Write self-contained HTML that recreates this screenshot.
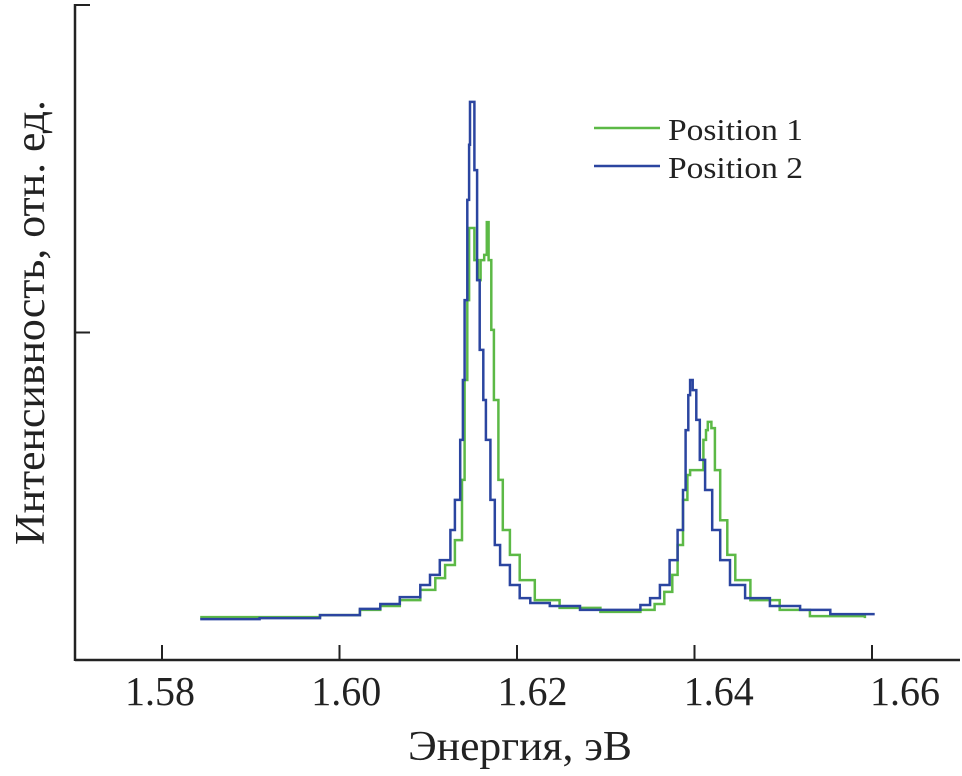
<!DOCTYPE html>
<html><head><meta charset="utf-8"><style>
html,body{margin:0;padding:0;background:#fff;}
svg{display:block;font-family:"Liberation Serif","DejaVu Serif",serif;}
</style></head><body>
<svg id="chart" width="962" height="776" viewBox="0 0 962 776">
<g id="axes"></g>
<g id="series"></g>
<g>
<line x1="594" y1="128" x2="660" y2="128" stroke="#5cb946" stroke-width="2.5"/>
<text x="668" y="140" font-size="31" textLength="135" lengthAdjust="spacingAndGlyphs" fill="#222">Position 1</text>
<line x1="594" y1="166" x2="660" y2="166" stroke="#2b45a0" stroke-width="2.5"/>
<text x="668" y="178" font-size="31" textLength="135" lengthAdjust="spacingAndGlyphs" fill="#222">Position 2</text>
</g>
<text x="408" y="760" font-size="42" textLength="224" lengthAdjust="spacingAndGlyphs" fill="#222">Энергия, эВ</text>
<text transform="translate(44,545) rotate(-90)" font-size="42" textLength="445" lengthAdjust="spacingAndGlyphs" fill="#222">Интенсивность, отн. ед.</text>
</svg>
<script>
const xTicks = [1.58, 1.60, 1.62, 1.64, 1.66];
const xTickLabels = ["1.58", "1.60", "1.62", "1.64", "1.66"];
const yTicks = [1, 2];
const energy1 = [1.5843,1.5910,1.5978,1.6023,1.6046,1.6068,1.6091,1.6108,1.6119,1.6130,1.6138,1.6141,1.6144,1.6146,1.6149,1.6152,1.6156,1.6159,1.6163,1.6166,1.6168,1.6171,1.6174,1.6179,1.6184,1.6192,1.6203,1.6220,1.6248,1.6294,1.6339,1.6355,1.6366,1.6375,1.6381,1.6387,1.6392,1.6395,1.6406,1.6410,1.6413,1.6415,1.6419,1.6423,1.6429,1.6437,1.6446,1.6463,1.6496,1.6530,1.6592];
const intensity1 = [0.131,0.131,0.137,0.153,0.165,0.183,0.214,0.250,0.290,0.366,0.550,0.855,1.099,1.319,1.319,1.221,1.160,1.221,1.237,1.337,1.221,1.008,0.794,0.550,0.397,0.321,0.244,0.183,0.159,0.147,0.153,0.171,0.208,0.260,0.351,0.489,0.565,0.580,0.580,0.672,0.702,0.727,0.708,0.580,0.427,0.321,0.244,0.183,0.153,0.134,0.128];
const energy2 = [1.5843,1.5910,1.5978,1.6023,1.6046,1.6068,1.6091,1.6102,1.6113,1.6125,1.6130,1.6136,1.6139,1.6141,1.6144,1.6146,1.6147,1.6150,1.6152,1.6155,1.6158,1.6162,1.6165,1.6170,1.6175,1.6181,1.6192,1.6203,1.6215,1.6237,1.6271,1.6316,1.6339,1.6350,1.6361,1.6372,1.6381,1.6387,1.6390,1.6393,1.6395,1.6398,1.6402,1.6406,1.6412,1.6420,1.6429,1.6440,1.6457,1.6485,1.6519,1.6553,1.6603];
const intensity2 = [0.125,0.128,0.137,0.156,0.171,0.192,0.229,0.260,0.305,0.397,0.489,0.672,0.855,1.099,1.405,1.573,1.704,1.704,1.496,1.160,0.947,0.794,0.672,0.489,0.351,0.290,0.229,0.189,0.174,0.165,0.153,0.153,0.168,0.189,0.229,0.305,0.397,0.519,0.702,0.809,0.855,0.824,0.733,0.611,0.519,0.397,0.305,0.229,0.189,0.165,0.153,0.140,0.140];
const NS='http://www.w3.org/2000/svg';
const X0=162, XPER=8875, Y0=660, YPER=327.5;
function xs(v){return X0+(v-1.58)*XPER;}
function ys(v){return Y0-v*YPER;}
function labelX(v){return 160+(xs(v)-162)*186.25/177.5;}
const axes=document.getElementById('axes');
function mk(tag,attrs,parent){const e=document.createElementNS(NS,tag);for(const k in attrs)e.setAttribute(k,attrs[k]);parent.appendChild(e);return e;}
let l=mk('line',{x1:75,y1:660,x2:960,y2:660,stroke:'#222','stroke-width':2.5},axes);


l=mk('line',{x1:75,y1:4,x2:75,y2:661,stroke:'#222','stroke-width':2.5},axes);


xTicks.forEach((t,i)=>{
 const tk=mk('line',{x1:xs(t),y1:660,x2:xs(t),y2:645,stroke:'#222','stroke-width':2},axes);
 
 
 const tx=mk('text',{x:labelX(t)-35,y:705,'font-size':41,textLength:70,lengthAdjust:'spacingAndGlyphs',fill:'#222'},axes);
 tx.textContent=xTickLabels[i];
 
 
});
yTicks.forEach(t=>{
 const y=Math.max(ys(t),5);
 const tk=mk('line',{x1:75,y1:y,x2:90,y2:y,stroke:'#222','stroke-width':2},axes);
 
 
});
function stepPath(E,I){
 let d='M'+xs(E[0]).toFixed(1)+','+ys(I[0]).toFixed(1);
 for(let i=1;i<E.length;i++){d+=' H'+xs(E[i]).toFixed(1)+' V'+ys(I[i]).toFixed(1);}
 return d;
}
const g=document.getElementById('series');
const p1=mk('path',{d:stepPath(energy1,intensity1),fill:'none',stroke:'#5cb946','stroke-width':2.5},g);


const p2=mk('path',{d:stepPath(energy2,intensity2),fill:'none',stroke:'#2b45a0','stroke-width':2.5},g);


</script>
</body></html>
